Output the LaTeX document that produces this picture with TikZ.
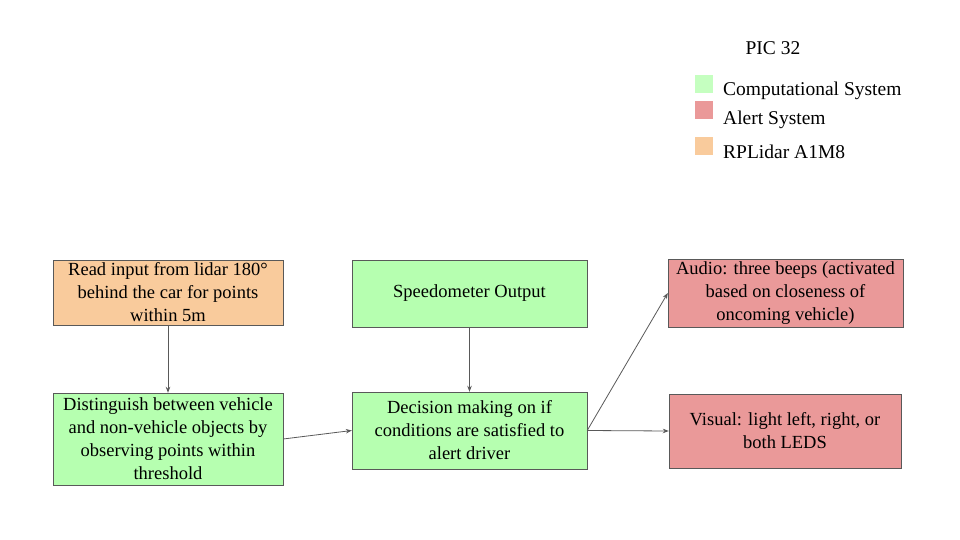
\documentclass[tikz,border=0pt]{standalone}
\usepackage{fontspec}
\setmainfont{Liberation Serif}
\usepackage{tikz}
\usetikzlibrary{arrows.meta,positioning}
\definecolor{lidarorange}{HTML}{F9CB9C}
\definecolor{compgreen}{HTML}{B6FFB0}
\definecolor{alertred}{HTML}{EA9999}
\definecolor{edgegrey}{HTML}{595959}

\begin{document}
\begin{tikzpicture}[x=1pt, y=-1pt, font=\fontsize{18.5}{23}\selectfont]
   \useasboundingbox (0,0) rectangle (960,540);
   % legend
   \node (title) at (773,48) {\fontsize{19.5}{23}\selectfont PIC 32};
   \begin{scope}[every node/.style={draw=none, minimum size=18pt, inner sep=0pt}]
    \node (kg) [fill=compgreen!80!white] at (704,84) {};
    \node (kr) [fill=alertred] at (704,110) {};
    \node (ko) [fill=lidarorange] at (704,146.5) {};
   \end{scope}
   \begin{scope}[every node/.style={anchor=west, inner sep=0pt, font=\fontsize{19.5}{23}\selectfont}]
    \node (tg) at (723,91) {Computational System};
    \node (tr) at (723,120) {Alert System};
    \node (to) at (723,152) {RPLidar A1M8};
   \end{scope}
   % boxes
   \begin{scope}[every node/.style={rectangle, draw=edgegrey, align=center, inner sep=2pt}]
    \node (lidar) [fill=lidarorange, minimum width=230pt, minimum height=65pt] at (168,292.5)
      {Read input from lidar 180°\\ behind the car for points\\ within 5m};
    \node (speedo) [fill=compgreen, minimum width=235pt, minimum height=67pt] at (469.5,293.5)
      {Speedometer Output};
    \node (audio) [fill=alertred, minimum width=235pt, minimum height=68pt] at (785.5,293)
      {Audio: three beeps (activated\\ based on closeness of\\ oncoming vehicle)};
    \node (filter) [fill=compgreen, minimum width=230pt, minimum height=92pt] at (168,439)
      {Distinguish between vehicle\\ and non-vehicle objects by\\ observing points within\\ threshold};
    \node (decide) [fill=compgreen, minimum width=235pt, minimum height=77pt] at (469.5,430.5)
      {Decision making on if\\ conditions are satisfied to\\ alert driver};
    \node (visual) [fill=alertred, minimum width=232pt, minimum height=74pt] at (785,431)
      {Visual: light left, right, or\\ both LEDS};
   \end{scope}
   % connectors
   \begin{scope}[-{Stealth[length=6pt,width=4.5pt]}, draw=edgegrey, line width=0.8pt]
    \draw (lidar) -- (filter);
    \draw (speedo) -- (decide);
    \draw (filter.east) -- (decide.west);
    \draw (decide.east) -- (audio.west);
    \draw (decide.east) -- (visual.west);
   \end{scope}
\end{tikzpicture}
\end{document}
